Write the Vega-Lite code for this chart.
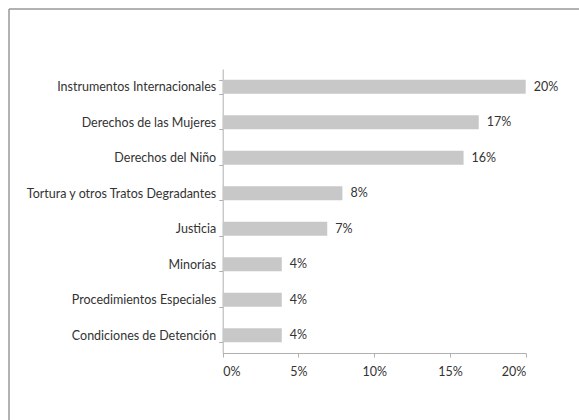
{
  "$schema": "https://vega.github.io/schema/vega-lite/v6.json",
  "autosize": "none",
  "padding": {"left": 9, "top": 9, "right": 0, "bottom": 0},
  "width": 570,
  "height": 411,
  "background": "white",
  "config": {
    "view": {"stroke": "#999999", "strokeWidth": 1.5, "strokeDash": [570, 981, 411, 0]},
    "font": "Lato"
  },
  "data": {
    "values": [
      {"tema": "Instrumentos Internacionales", "valor": 0.2},
      {"tema": "Derechos de las Mujeres", "valor": 0.169},
      {"tema": "Derechos del Niño", "valor": 0.159},
      {"tema": "Tortura y otros Tratos Degradantes", "valor": 0.079},
      {"tema": "Justicia", "valor": 0.069},
      {"tema": "Minorías", "valor": 0.039},
      {"tema": "Procedimientos Especiales", "valor": 0.039},
      {"tema": "Condiciones de Detención", "valor": 0.039}
    ]
  },
  "encoding": {
    "y": {
      "field": "tema",
      "type": "nominal",
      "sort": null,
      "title": null,
      "scale": {"range": [60, 344], "paddingInner": 0.6, "paddingOuter": 0.3},
      "axis": {
        "offset": -213.7,
        "tickBand": "extent",
        "domainColor": "#b0b0b0",
        "tickColor": "#b0b0b0",
        "tickSize": 4,
        "labelFontSize": 12.5,
        "labelColor": "#333333",
        "labelPadding": 3,
        "labelLimit": 400,
        "labelFont": "Lato"
      }
    },
    "x": {
      "field": "valor",
      "type": "quantitative",
      "title": null,
      "scale": {"domain": [0, 0.2], "range": [213.7, 516.7], "nice": false},
      "axis": {
        "offset": -67,
        "values": [0, 0.05, 0.1, 0.15, 0.2],
        "format": ".0%",
        "grid": false,
        "domainColor": "#b0b0b0",
        "tickColor": "#b0b0b0",
        "tickSize": 4,
        "labelFontSize": 12.5,
        "labelColor": "#333333",
        "labelPadding": 8,
        "labelFont": "Lato"
      }
    }
  },
  "layer": [
    {"mark": {"type": "bar", "color": "#c8c8c8"}},
    {
      "mark": {"type": "text", "align": "left", "dx": 8, "fontSize": 12.5, "color": "#333333", "font": "Lato"},
      "encoding": {"text": {"field": "valor", "type": "quantitative", "format": ".0%"}}
    }
  ]
}
